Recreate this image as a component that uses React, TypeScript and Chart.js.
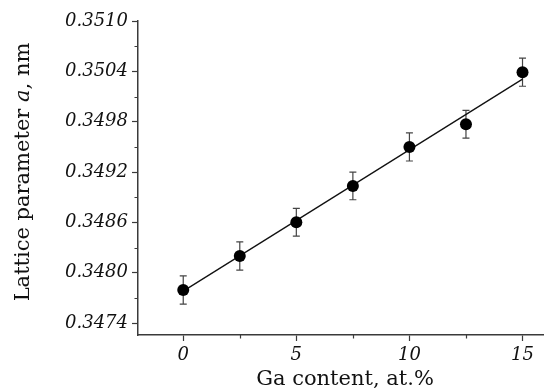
import React, { useEffect, useRef } from "react";
import { Chart, registerables } from "chart.js";

Chart.register(...registerables);

const gaContent = [0, 2.5, 5, 7.5, 10, 12.5, 15];
const latticeA = [0.347794, 0.348199, 0.348601, 0.349034, 0.349499, 0.34977, 0.35039];
const latticeErr = [0.000168, 0.000168, 0.000165, 0.000165, 0.000168, 0.000165, 0.000168];
const fitX = [0, 15];
const fitY = [0.34778, 0.350307];
const xMajorTicks = [0, 5, 10, 15];
const xMinorTicks = [2.5, 7.5, 12.5];
const yMajorTicks = [0.3474, 0.348, 0.3486, 0.3492, 0.3498, 0.3504, 0.351];
const yMinorTicks = [0.3477, 0.3483, 0.3489, 0.3495, 0.3501, 0.3507];
const xTitle = "Ga content, at.%";
const yTitleParts = [
  { text: "Lattice parameter ", italic: false },
  { text: "a", italic: true },
  { text: ", nm", italic: false },
];

const FONT = "'DejaVu Serif', serif";
const AXIS_COLOR = "#3a3a3a";
const TITLE_SIZE = 21;

const customPlugin = {
  id: "custom",
  beforeDatasetsDraw(chart: any) {
    const ctx = chart.ctx;
    const xs = chart.scales.x;
    const ys = chart.scales.y;
    ctx.save();
    ctx.strokeStyle = "#444";
    ctx.lineWidth = 1.2;
    for (let i = 0; i < gaContent.length; i++) {
      const px = xs.getPixelForValue(gaContent[i]);
      const top = ys.getPixelForValue(latticeA[i] + latticeErr[i]);
      const bot = ys.getPixelForValue(latticeA[i] - latticeErr[i]);
      ctx.beginPath();
      ctx.moveTo(px, top);
      ctx.lineTo(px, bot);
      ctx.moveTo(px - 3.5, top);
      ctx.lineTo(px + 3.5, top);
      ctx.moveTo(px - 3.5, bot);
      ctx.lineTo(px + 3.5, bot);
      ctx.stroke();
    }
    ctx.restore();
  },
  afterDraw(chart: any) {
    const ctx = chart.ctx;
    const xs = chart.scales.x;
    const ys = chart.scales.y;
    const area = chart.chartArea;
    ctx.save();
    ctx.strokeStyle = AXIS_COLOR;
    ctx.lineWidth = 1.2;
    ctx.beginPath();
    for (const v of xMinorTicks) {
      const px = Math.round(xs.getPixelForValue(v)) + 0.5;
      ctx.moveTo(px, area.bottom);
      ctx.lineTo(px, area.bottom + 3.5);
    }
    for (const v of yMinorTicks) {
      const py = Math.round(ys.getPixelForValue(v)) + 0.5;
      ctx.moveTo(area.left, py);
      ctx.lineTo(area.left - 3.5, py);
    }
    ctx.stroke();

    ctx.fillStyle = "#111";
    ctx.textBaseline = "alphabetic";
    ctx.font = `${TITLE_SIZE}px ${FONT}`;
    ctx.textAlign = "center";
    ctx.fillText(xTitle, 345, 385);

    // y title, rotated
    let total = 0;
    const widths: number[] = [];
    for (const p of yTitleParts) {
      ctx.font = `${p.italic ? "italic " : ""}${TITLE_SIZE}px ${FONT}`;
      const w = ctx.measureText(p.text).width;
      widths.push(w);
      total += w;
    }
    ctx.translate(28.5, 172);
    ctx.rotate(-Math.PI / 2);
    ctx.textAlign = "left";
    let x = -total / 2;
    yTitleParts.forEach((p, i) => {
      ctx.font = `${p.italic ? "italic " : ""}${TITLE_SIZE}px ${FONT}`;
      ctx.fillText(p.text, x, 0);
      x += widths[i];
    });
    ctx.restore();
  },
};

export default function App() {
  const ref = useRef<HTMLCanvasElement | null>(null);
  useEffect(() => {
    document.body.style.margin = "0";
    const canvas = ref.current!;
    const chart = new Chart(canvas, {
      type: "scatter",
      data: {
        datasets: [
          {
            label: "data",
            data: gaContent.map((x, i) => ({ x, y: latticeA[i] })),
            pointRadius: 6,
            pointBackgroundColor: "#000",
            pointBorderColor: "#000",
            pointBorderWidth: 0,
            showLine: false,
          },
          {
            label: "fit",
            type: "line",
            data: fitX.map((x, i) => ({ x, y: fitY[i] })),
            borderColor: "#111",
            borderWidth: 1.3,
            pointRadius: 0,
            fill: false,
          } as any,
        ],
      },
      options: {
        animation: false,
        responsive: false,
        layout: { autoPadding: false, padding: { top: 21, right: 0, left: 0, bottom: 0 } },
        plugins: { legend: { display: false }, tooltip: { enabled: false } },
        scales: {
          x: {
            type: "linear",
            min: -2,
            max: 15.95,
            afterBuildTicks: (s: any) => {
              s.ticks = xMajorTicks.map((v) => ({ value: v }));
            },
            afterFit: (s: any) => {
              s.height = 55;
            },
            grid: {
              drawOnChartArea: false,
              drawTicks: true,
              tickLength: 6,
              tickColor: AXIS_COLOR,
              tickWidth: 1.2,
            },
            border: { display: true, color: AXIS_COLOR, width: 1.5 },
            ticks: {
              color: "#111",
              font: { family: FONT, size: 18, style: "italic" },
              padding: 4,
              maxRotation: 0,
              callback: (v: any) => String(v),
            },
          },
          y: {
            type: "linear",
            min: 0.347257,
            max: 0.351,
            afterBuildTicks: (s: any) => {
              s.ticks = yMajorTicks.map((v) => ({ value: v }));
            },
            afterFit: (s: any) => {
              s.width = 138;
            },
            grid: {
              drawOnChartArea: false,
              drawTicks: true,
              tickLength: 6,
              tickColor: AXIS_COLOR,
              tickWidth: 1.2,
            },
            border: { display: true, color: AXIS_COLOR, width: 1.5 },
            ticks: {
              color: "#111",
              font: { family: FONT, size: 18, style: "italic" },
              padding: 4,
              callback: (v: any) => Number(v).toFixed(4),
            },
          },
        },
      },
      plugins: [customPlugin],
    });
    return () => chart.destroy();
  }, []);
  return (
    <div style={{ width: 544, height: 390 }}>
      <canvas ref={ref} width={544} height={390} style={{ display: "block" }} />
    </div>
  );
}
